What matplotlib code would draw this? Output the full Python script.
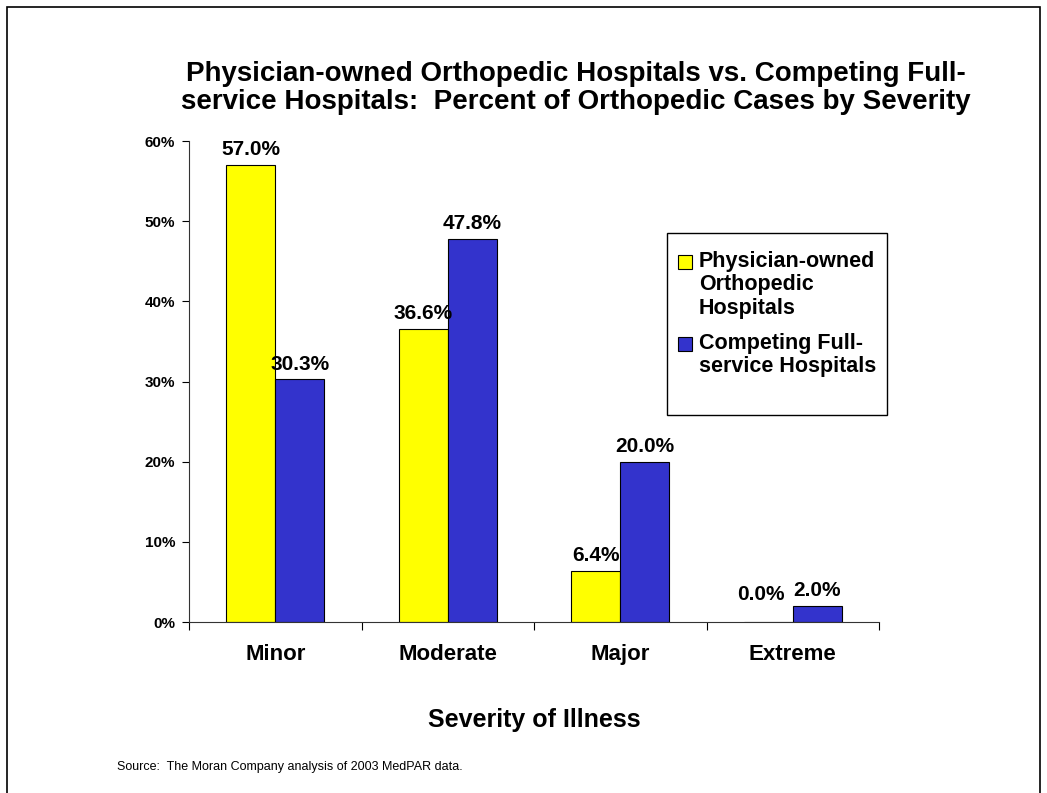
import matplotlib
matplotlib.use("Agg")
import matplotlib.pyplot as plt
import numpy as np
from matplotlib.patches import Rectangle

plt.rcParams["font.family"] = ["Liberation Sans", "DejaVu Sans"]

categories = ["Minor", "Moderate", "Major", "Extreme"]
series_names = ["Physician-owned\nOrthopedic\nHospitals", "Competing Full-\nservice Hospitals"]
physician_owned = [57.0, 36.6, 6.4, 0.0]
full_service = [30.3, 47.8, 20.0, 2.0]
colors = ["#FFFF00", "#3333CC"]
yticks = [0, 10, 20, 30, 40, 50, 60]

W, H = 1047, 793
fig = plt.figure(figsize=(W / 100, H / 100), dpi=100)
ax = fig.add_axes([189 / W, 1 - 622 / H, 690 / W, 481 / H])

x = np.arange(len(categories))
w = 0.284
for vals, off, c in [(physician_owned, -w / 2, colors[0]), (full_service, w / 2, colors[1])]:
    bars = ax.bar(x + off, vals, w, color=c, edgecolor="black", linewidth=0.8)
    for b, v in zip(bars, vals):
        dx, dy = (-5, 13) if v == 0 else (0, 4)
        ax.annotate(f"{v:.1f}%", (b.get_x() + b.get_width() / 2, v),
                    xytext=(dx, dy), textcoords="offset points",
                    ha="center", va="bottom", fontsize=15, fontweight="bold")

ax.set_xlim(-0.5, 3.5)
ax.set_ylim(0, 60)
ax.set_yticks(yticks)
ax.set_yticklabels([f"{t}%" for t in yticks], fontsize=11, fontweight="bold")
ax.set_xticks(x)
ax.set_xticklabels(categories, fontsize=16, fontweight="bold")
ax.tick_params(axis="x", length=0, pad=16)
ax.set_xticks(np.arange(-0.5, 4, 1), minor=True)
ax.tick_params(axis="x", which="minor", length=6, direction="out", width=0.8)
ax.tick_params(axis="y", length=5, width=0.8, pad=5)
for s in ["top", "right"]:
    ax.spines[s].set_visible(False)
for s in ["left", "bottom"]:
    ax.spines[s].set_linewidth(0.8)
    ax.spines[s].set_color("#333333")

# outer frame
fig.patches.append(Rectangle((7 / W, -0.05), 1033 / W, 1 - 7 / H + 0.05,
                             transform=fig.transFigure, fill=False,
                             edgecolor="black", linewidth=1.2))

fig.text(576 / W, 1 - 88 / H,
         "Physician-owned Orthopedic Hospitals vs. Competing Full-\n"
         "service Hospitals:  Percent of Orthopedic Cases by Severity",
         ha="center", va="center", fontsize=20, fontweight="bold", linespacing=1.08)

fig.text(534 / W, 1 - 720 / H, "Severity of Illness", ha="center", va="center",
         fontsize=18, fontweight="bold")
fig.text(117 / W, 1 - 767 / H, "Source:  The Moran Company analysis of 2003 MedPAR data.",
         ha="left", va="center", fontsize=9)

# legend box, drawn by hand so the swatch sits beside the first line of each label
fig.patches.append(Rectangle((667 / W, 1 - 415 / H), 220 / W, 182 / H,
                             transform=fig.transFigure, facecolor="white",
                             edgecolor="black", linewidth=1.0, zorder=3))
for name, c, top in zip(series_names, colors, [255, 337]):
    fig.patches.append(Rectangle((678 / W, 1 - (top + 14) / H), 14 / W, 14 / H,
                                 transform=fig.transFigure, facecolor=c,
                                 edgecolor="black", linewidth=0.8, zorder=4))
    fig.text(699 / W, 1 - (top - 4) / H, name, ha="left", va="top", fontsize=15.5,
             fontweight="bold", linespacing=1.15, zorder=4)

fig.savefig("out.png", dpi=100)
